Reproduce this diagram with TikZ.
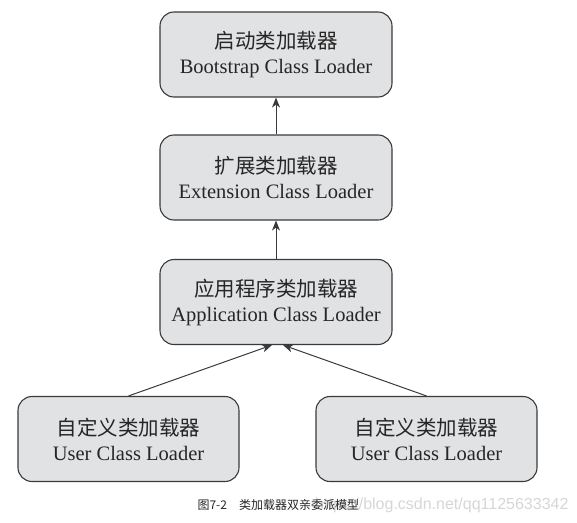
\documentclass[tikz,border=0pt]{standalone}
\usepackage{fontspec}
\setmainfont{Liberation Serif}
\newfontfamily\cjk{Noto Sans CJK SC}
\newfontfamily\wmfont{Liberation Sans}
\usetikzlibrary{arrows.meta}
\definecolor{boxgray}{HTML}{E1E2E4}
\definecolor{edgegray}{HTML}{3A3A3A}
\definecolor{markgray}{HTML}{D6D6D6}
\tikzset{
  loader/.style={draw=edgegray, line width=1.1pt, fill=boxgray, rounded corners=14pt,
      minimum height=85pt, align=center, text=black!85, font=\fontsize{20.5}{25}\selectfont},
  up/.style={draw=edgegray, line width=1pt, -{Stealth[length=10pt, width=8pt, inset=3pt]}}
}
\begin{document}
\begin{tikzpicture}[x=1pt, y=-1pt]
  \useasboundingbox (0, 0) rectangle (577, 522);
  \node[loader, minimum width=232pt] (boot) at (276, 54.5) {{\cjk 启动类加载器}\\Bootstrap Class Loader};
  \node[loader, minimum width=232pt] (ext) at (276, 177.5) {{\cjk 扩展类加载器}\\Extension Class Loader};
  \node[loader, minimum width=232pt] (app) at (276, 302) {{\cjk 应用程序类加载器}\\Application Class Loader};
  \foreach \name/\x in {userl/128.5, userr/426.5} {
      \node[loader, minimum width=221pt] (\name) at (\x, 439) {{\cjk 自定义类加载器}\\User Class Loader};
    }
  \draw[up] (ext) -- (boot);
  \draw[up] (app) -- (ext);
  \draw[up] (userl.north) -- ([xshift=-4pt]app.south);
  \draw[up] (userr.north) -- ([xshift=7pt]app.south);
  \node[anchor=east, text=markgray, font=\wmfont\fontsize{16}{18}\selectfont] (mark) at (572, 505) {https://blog.csdn.net/qq1125633342};
  \node[anchor=west, text=black!85, font=\cjk\fontsize{12}{14}\selectfont] (caption) at (194, 505) {图7-2\quad 类加载器双亲委派模型};
\end{tikzpicture}
\end{document}
